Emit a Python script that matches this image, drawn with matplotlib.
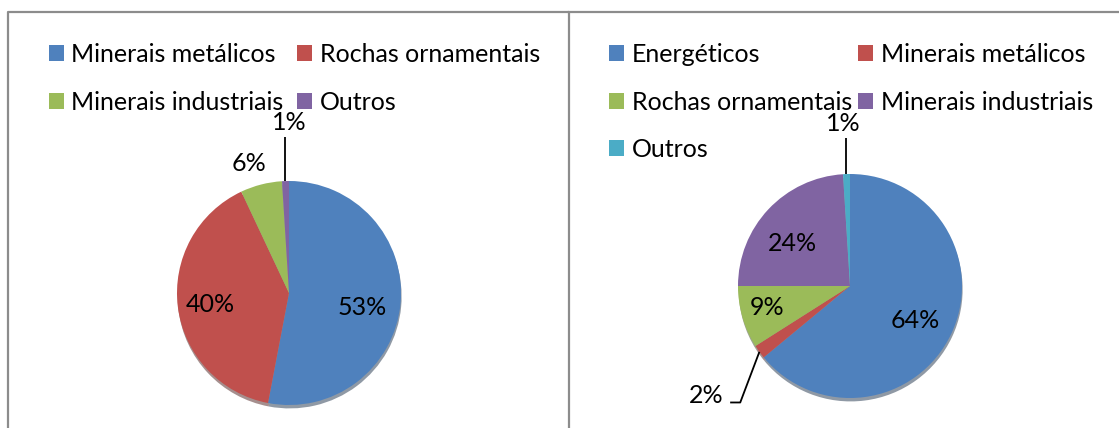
import numpy as np
import matplotlib.pyplot as plt
from matplotlib.lines import Line2D

plt.rcParams['font.family'] = ['Lato', 'DejaVu Sans']

W, H = 1119, 428
R = 112  # pie radius in pixels
FS = 18

# ---------- dados ----------
left_labels = ['Minerais metálicos', 'Rochas ornamentais', 'Minerais industriais', 'Outros']
left_values = [53, 40, 6, 1]

right_labels = ['Energéticos', 'Minerais metálicos', 'Rochas ornamentais',
                'Minerais industriais', 'Outros']
right_values = [64, 2, 9, 24, 1]

palette = ['#4F81BD', '#C0504D', '#9BBB59', '#8064A2', '#4BACC6']

# posicoes dos rotulos (em raios, relativo ao centro)
left_label_pos = [(0.65, -0.13), (-0.70, -0.10), (-0.36, 1.16), (0.0, 1.52)]
right_label_pos = [(0.58, -0.31), (-1.28, -0.98), (-0.74, -0.19), (-0.51, 0.38), (-0.06, 1.455)]

fig = plt.figure(figsize=(W / 100, H / 100), dpi=100)


def px(x, y):
    return x / W, 1 - y / H


# moldura dos paineis
frame_kw = dict(color='#8c8c8c', lw=1.6, transform=fig.transFigure)
xs, ys = zip(px(8, H), px(8, 12), px(569, 12), px(569, H))
fig.add_artist(Line2D(xs, ys, **frame_kw))
xs, ys = zip(px(569, 12), px(W, 12))
fig.add_artist(Line2D(xs, ys, **frame_kw))


def pie_axes(cx, cy, half=190):
    ax = fig.add_axes([(cx - half) / W, (H - cy - half) / H, 2 * half / W, 2 * half / H])
    return ax, half


def draw_pie(ax, half, values, label_pos, leaders):
    wedges, texts, autotexts = ax.pie(
        values, colors=palette[:len(values)], startangle=90, counterclock=False,
        radius=1, autopct='%.0f%%', pctdistance=0.6,
        wedgeprops=dict(linewidth=0),
        shadow={'ox': 0.004, 'oy': -0.022, 'shade': 0.6},
        textprops=dict(fontsize=FS, color='black'))
    ax.set_xlim(-half / R, half / R)
    ax.set_ylim(-half / R, half / R)
    ax.axis('off')
    for t, pos in zip(autotexts, label_pos):
        t.set_position(pos)
        t.set_ha('center')
        t.set_va('center')
    # linhas de chamada (x=None -> mesma coluna do inicio)
    for i, path in leaders.items():
        w = wedges[i]
        ang = np.deg2rad((w.theta1 + w.theta2) / 2)
        x0, y0 = np.cos(ang), np.sin(ang)
        pts = [(x0, y0)] + [(x0 if x is None else x, y) for x, y in path]
        lx, ly = zip(*pts)
        ax.plot(lx, ly, color='black', lw=1.3, solid_capstyle='butt')
    return wedges


def draw_legend(wedges, labels, order, anchor, colspacing):
    fig.legend([wedges[i] for i in order], [labels[i] for i in order],
               ncol=2, loc='upper left', bbox_to_anchor=px(*anchor),
               frameon=False, fontsize=FS, handlelength=0.6, handleheight=0.6,
               handletextpad=0.3, columnspacing=colspacing, labelspacing=0.98,
               borderpad=0, borderaxespad=0)


# painel esquerdo
axl, hl = pie_axes(289, 293)
wl = draw_pie(axl, hl, left_values, left_label_pos, {3: [(None, 1.39)]})
draw_legend(wl, left_labels, [0, 2, 1, 3], (49, 43), 0.53)

# painel direito
axr, hr = pie_axes(850, 286)
wr = draw_pie(axr, hr, right_values, right_label_pos,
              {1: [(-0.98, -1.04), (-1.07, -1.04)], 4: [(None, 1.32)]})
draw_legend(wr, right_labels, [0, 2, 4, 1, 3], (609, 43), 0.26)

fig.savefig('out.png', dpi=100)
